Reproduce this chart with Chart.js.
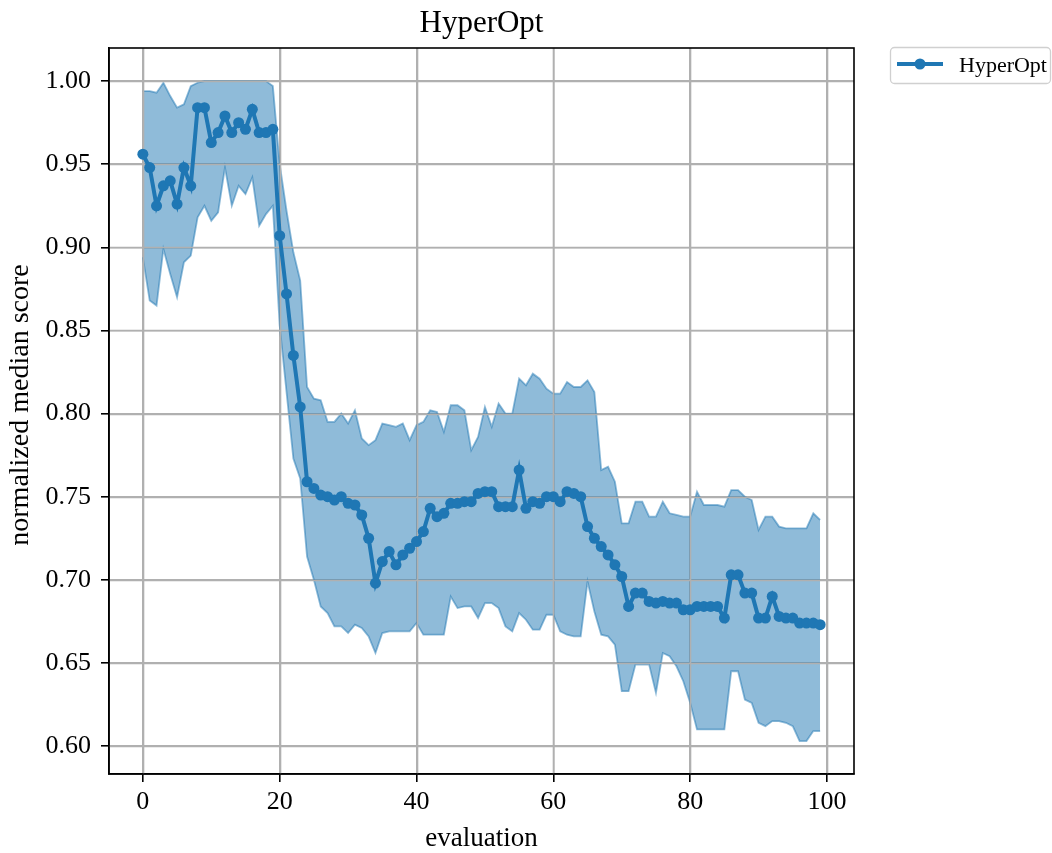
<!DOCTYPE html>
<html>
<head>
<meta charset="utf-8">
<script src="https://cdn.jsdelivr.net/npm/chart.js@4.4.1/dist/chart.umd.min.js"></script>
<style>
  body { margin: 0; background: #fff; }
  #wrap { width: 1052px; height: 853px; }
</style>
</head>
<body>
<div id="wrap"><canvas id="c" width="1052" height="853"></canvas></div>
<script>
// evaluation index 0..99
var evals = []
for (let i = 0; i < 100; i++) evals.push(i)

var median = [
  0.956, 0.948, 0.925, 0.937, 0.940, 0.926, 0.948, 0.937, 0.984, 0.984,
  0.963, 0.969, 0.979, 0.969, 0.975, 0.971, 0.983, 0.969, 0.969, 0.971,
  0.907, 0.872, 0.835, 0.804, 0.759, 0.755, 0.751, 0.750, 0.748, 0.750,
  0.746, 0.745, 0.739, 0.725, 0.698, 0.711, 0.717, 0.709, 0.715, 0.719,
  0.723, 0.729, 0.743, 0.738, 0.740, 0.746, 0.746, 0.747, 0.747, 0.752,
  0.753, 0.753, 0.744, 0.744, 0.744, 0.766, 0.743, 0.747, 0.746, 0.750,
  0.750, 0.747, 0.753, 0.752, 0.750, 0.732, 0.725, 0.720, 0.715, 0.709,
  0.702, 0.684, 0.692, 0.692, 0.687, 0.686, 0.687, 0.686, 0.686, 0.682,
  0.682, 0.684, 0.684, 0.684, 0.684, 0.677, 0.703, 0.703, 0.692, 0.692,
  0.677, 0.677, 0.690, 0.678, 0.677, 0.677, 0.674, 0.674, 0.674, 0.673
]

var upper = [
  0.994, 0.994, 0.993, 0.999, 0.991, 0.984, 0.986, 0.997, 0.999, 1.000,
  1.000, 1.000, 1.000, 1.000, 1.000, 1.000, 1.000, 1.000, 1.000, 0.997,
  0.950, 0.922, 0.897, 0.880, 0.816, 0.809, 0.808, 0.795, 0.795, 0.800,
  0.794, 0.802, 0.785, 0.781, 0.784, 0.794, 0.793, 0.792, 0.794, 0.784,
  0.793, 0.795, 0.802, 0.801, 0.789, 0.805, 0.805, 0.802, 0.778, 0.786,
  0.804, 0.792, 0.806, 0.800, 0.800, 0.821, 0.817, 0.824, 0.821, 0.815,
  0.812, 0.812, 0.819, 0.816, 0.816, 0.820, 0.813, 0.766, 0.768, 0.759,
  0.734, 0.734, 0.747, 0.747, 0.738, 0.738, 0.747, 0.740, 0.739, 0.738,
  0.738, 0.753, 0.745, 0.745, 0.745, 0.744, 0.754, 0.754, 0.750, 0.748,
  0.730, 0.738, 0.738, 0.732, 0.731, 0.731, 0.731, 0.731, 0.740, 0.736
]

var lower = [
  0.894, 0.868, 0.865, 0.899, 0.884, 0.870, 0.891, 0.895, 0.918, 0.925,
  0.916, 0.921, 0.948, 0.925, 0.937, 0.932, 0.942, 0.913, 0.920, 0.925,
  0.853, 0.813, 0.773, 0.761, 0.714, 0.700, 0.684, 0.680, 0.672, 0.672,
  0.668, 0.673, 0.671, 0.666, 0.656, 0.668, 0.669, 0.669, 0.669, 0.669,
  0.674, 0.667, 0.667, 0.667, 0.667, 0.690, 0.683, 0.684, 0.684, 0.677,
  0.686, 0.686, 0.683, 0.672, 0.669, 0.680, 0.676, 0.670, 0.670, 0.679,
  0.679, 0.669, 0.667, 0.666, 0.666, 0.699, 0.681, 0.667, 0.666, 0.661,
  0.633, 0.633, 0.649, 0.649, 0.649, 0.632, 0.656, 0.654, 0.648, 0.639,
  0.626, 0.610, 0.610, 0.610, 0.610, 0.610, 0.645, 0.645, 0.628, 0.626,
  0.614, 0.612, 0.615, 0.615, 0.614, 0.612, 0.603, 0.603, 0.609, 0.609
]

var xTicks = [0, 20, 40, 60, 80, 100]
var yTicks = [0.60, 0.65, 0.70, 0.75, 0.80, 0.85, 0.90, 0.95, 1.00]

var chartTitle = "HyperOpt"
var xLabel = "evaluation"
var yLabel = "normalized median score"
var seriesName = "HyperOpt"

const BLUE = "#1f77b4"
const BAND = "rgba(31,119,180,0.5)"
const GRID = "#b0b0b0"
const SERIF = "'Liberation Serif', 'DejaVu Serif', serif"

function pts(arr) {
  return arr.map((v, i) => ({ x: evals[i], y: v }))
}

// grid drawn again above the band (matplotlib puts grid over patches)
function drawGrid(chart) {
  const ctx = chart.ctx
  const a = chart.chartArea
  const xs = chart.scales.x, ys = chart.scales.y
  ctx.save()
  ctx.strokeStyle = GRID
  ctx.lineWidth = 1.6
  ctx.beginPath()
  for (const t of xTicks) {
    const px = Math.round(xs.getPixelForValue(t)) + 0.5
    ctx.moveTo(px, a.top); ctx.lineTo(px, a.bottom)
  }
  for (const t of yTicks) {
    const py = Math.round(ys.getPixelForValue(t)) + 0.5
    ctx.moveTo(a.left, py); ctx.lineTo(a.right, py)
  }
  ctx.stroke()
  ctx.restore()
}

const decor = {
  id: "decor",
  afterDatasetDraw(chart, args) {
    if (args.index === 1) drawGrid(chart)
  },
  afterDraw(chart) {
    const ctx = chart.ctx
    const a = chart.chartArea
    ctx.save()
    // frame
    ctx.strokeStyle = "#000"
    ctx.lineWidth = 1.6
    ctx.strokeRect(a.left, a.top, a.right - a.left, a.bottom - a.top)

    // title
    ctx.fillStyle = "#000"
    ctx.textAlign = "center"
    ctx.textBaseline = "alphabetic"
    ctx.font = "31px " + SERIF
    ctx.fillText(chartTitle, (a.left + a.right) / 2, 32)

    // axis labels
    ctx.font = "27px " + SERIF
    ctx.fillText(xLabel, (a.left + a.right) / 2, 846)
    ctx.save()
    ctx.font = "28px " + SERIF
    ctx.translate(28, (a.top + a.bottom) / 2 - 6)
    ctx.rotate(-Math.PI / 2)
    ctx.fillText(yLabel, 0, 0)
    ctx.restore()

    // legend
    const bx = 890.5, by = 47.5, bw = 160, bh = 36, r = 4
    ctx.beginPath()
    ctx.moveTo(bx + r, by)
    ctx.arcTo(bx + bw, by, bx + bw, by + bh, r)
    ctx.arcTo(bx + bw, by + bh, bx, by + bh, r)
    ctx.arcTo(bx, by + bh, bx, by, r)
    ctx.arcTo(bx, by, bx + bw, by, r)
    ctx.closePath()
    ctx.fillStyle = "rgba(255,255,255,0.8)"
    ctx.fill()
    ctx.strokeStyle = "#d0d0d0"
    ctx.lineWidth = 1.3
    ctx.stroke()

    ctx.strokeStyle = BLUE
    ctx.lineWidth = 4
    ctx.beginPath()
    ctx.moveTo(897, 64); ctx.lineTo(943, 64)
    ctx.stroke()
    ctx.fillStyle = BLUE
    ctx.beginPath()
    ctx.arc(920, 64, 5.5, 0, Math.PI * 2)
    ctx.fill()

    ctx.fillStyle = "#000"
    ctx.textAlign = "left"
    ctx.font = "22px " + SERIF
    ctx.fillText(seriesName, 959, 72)
    ctx.restore()
  }
}

Chart.defaults.font.family = SERIF
Chart.defaults.color = "#000"

new Chart(document.getElementById("c"), {
  type: "line",
  data: {
    datasets: [
      {
        label: seriesName,
        data: pts(median),
        borderColor: BLUE,
        backgroundColor: BLUE,
        borderWidth: 4,
        pointRadius: 5.5,
        pointBorderWidth: 0,
        pointBackgroundColor: BLUE,
        fill: false,
        tension: 0
      },
      {
        label: "upper",
        data: pts(upper),
        borderColor: BAND,
        backgroundColor: BAND,
        borderWidth: 1.8,
        pointRadius: 0,
        fill: "+1",
        tension: 0
      },
      {
        label: "lower",
        data: pts(lower),
        borderColor: BAND,
        borderWidth: 1.8,
        pointRadius: 0,
        fill: false,
        tension: 0
      }
    ]
  },
  options: {
    responsive: false,
    animation: false,
    devicePixelRatio: 1,
    layout: { padding: { left: 0, right: 198, top: 48, bottom: 0 } },
    plugins: {
      legend: { display: false },
      title: { display: false },
      tooltip: { enabled: false }
    },
    scales: {
      x: {
        type: "linear",
        min: -4.95,
        max: 103.95,
        afterBuildTicks: s => { s.ticks = xTicks.map(v => ({ value: v })) },
        afterFit: s => { s.height = 79 },
        ticks: {
          font: { size: 26, family: SERIF },
          color: "#000",
          padding: 5,
          maxRotation: 0,
          callback: v => String(v)
        },
        grid: {
          color: GRID,
          lineWidth: 1.6,
          tickColor: "#000",
          tickLength: 8,
          tickWidth: 1.6
        },
        border: { display: true, color: "#000", width: 1.6 }
      },
      y: {
        type: "linear",
        min: 0.5832,
        max: 1.0199,
        afterBuildTicks: s => { s.ticks = yTicks.map(v => ({ value: v })) },
        afterFit: s => { s.width = 109 },
        ticks: {
          font: { size: 26, family: SERIF },
          color: "#000",
          padding: 10,
          callback: v => v.toFixed(2)
        },
        grid: {
          color: GRID,
          lineWidth: 1.6,
          tickColor: "#000",
          tickLength: 8,
          tickWidth: 1.6
        },
        border: { display: true, color: "#000", width: 1.6 }
      }
    }
  },
  plugins: [decor]
})
</script>
</body>
</html>
